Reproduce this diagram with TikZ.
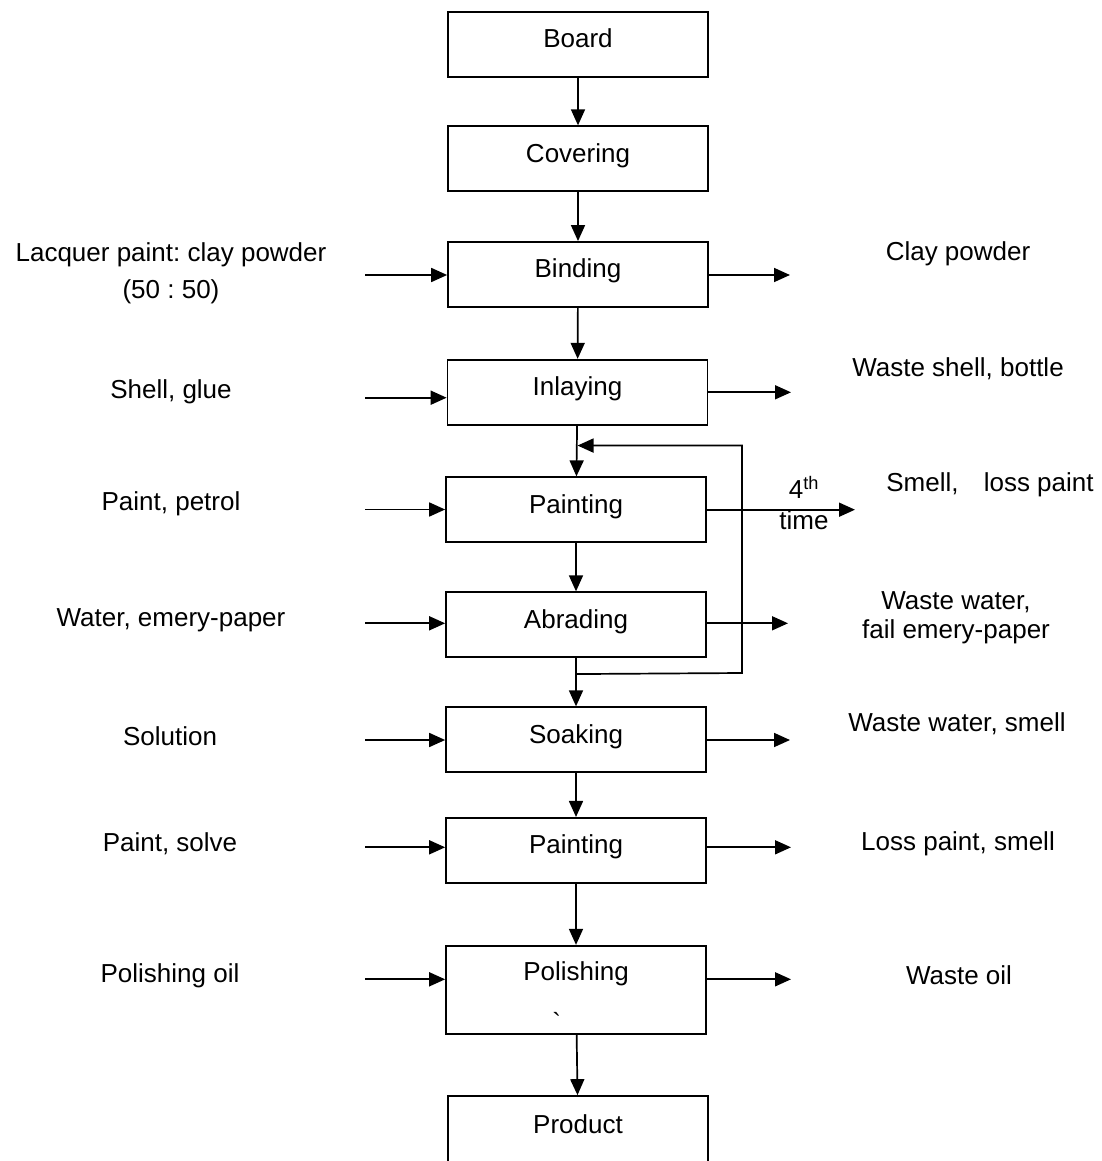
\documentclass[tikz,border=0pt]{standalone}
\usepackage{fontspec}
\setmainfont{Liberation Sans}
\usetikzlibrary{arrows.meta}
\frenchspacing

\tikzset{
  stepbox/.style={draw,line width=1.7pt,minimum width=260pt,minimum height=65pt,inner sep=0pt,text height=19pt,text depth=12pt},
  flow/.style={line width=1.7pt,-{Triangle[length=16pt,width=14pt]}},
  lbl/.style={align=center,inner sep=0pt},
}

\begin{document}
\begin{tikzpicture}[x=1pt,y=-1pt,font=\fontsize{26}{29}\selectfont]
  \useasboundingbox (0,0) rectangle (1101,1161);
  \clip (0,0) rectangle (1101,1161);
  % process steps
  \node[stepbox] (board) at (578,44.5) {Board};
  \node[stepbox] (cover) at (578,158.7) {Covering};
  \node[stepbox] (bind) at (578,274.4) {Binding};
  \node[stepbox] (inlay) at (577.5,392.2) {Inlaying};
  \node[stepbox] (paint) at (576,509.7) {Painting};
  \node[stepbox] (abrade) at (576,624.7) {Abrading};
  \node[stepbox] (soak) at (576,739.7) {Soaking};
  \node[stepbox] (repaint) at (576,850.3) {Painting};
  \node[stepbox,minimum height=88pt,text depth=37pt] (polish) at (576,989.7) {Polishing};
  \node[stepbox,minimum height=67pt] (product) at (578,1129.5) {Product};
  \node[inner sep=0pt] (tick) at (556.7,1021.7) {\textasciigrave};
  % main line
  \draw[flow] (board) -- (cover);
  \draw[flow] (cover) -- (bind);
  \draw[flow] (bind) -- (inlay);
  \draw[flow] (inlay) -- (paint);
  \draw[flow] (paint) -- (abrade);
  \draw[flow] (abrade) -- (soak);
  \draw[flow] (soak) -- (repaint);
  \draw[flow] (repaint) -- (polish);
  \draw[flow] (polish) -- (product);
  % repeat loop
  \path (inlay.south) ++(0,20) coordinate (back);
  \path (abrade.south) ++(0,16) coordinate (redo);
  \coordinate (turn) at (742,673);
  \draw[flow] (redo) -- (turn) |- (back);
  % inputs
  \foreach \n/\y in {bind/275,inlay/397.7,paint/509.5,abrade/623.3,soak/740,repaint/847.3,polish/979.3} {
    \coordinate (in-\n) at (365,\y);
    \draw[flow] (in-\n) -- (in-\n -| \n.west);
  }
  % outputs
  \foreach \n/\y/\e in {bind/275/790,inlay/392.3/791,paint/509.7/855,abrade/623.3/788,soak/740/790,repaint/847.3/791,polish/979.3/791} {
    \coordinate (out-\n) at (\e,\y);
    \draw[flow] (out-\n -| \n.east) -- (out-\n);
  }
  \node[lbl] (lacquer) at (171,273.5) {Lacquer paint: clay powder\\[7.5pt](50 : 50)};
  \node[lbl] (shell) at (171,392) {Shell, glue};
  \node[lbl] (petrol) at (171,503.5) {Paint, petrol};
  \node[lbl] (water) at (171,620.5) {Water, emery-paper};
  \node[lbl] (solution) at (170,736) {Solution};
  \node[lbl] (solve) at (170,843.5) {Paint, solve};
  \node[lbl] (oil) at (170,975.5) {Polishing oil};
  \node[lbl] (clay) at (958,254) {Clay powder};
  \node[lbl] (wshell) at (958,368.5) {Waste shell, bottle};
  \node[lbl] (smell) at (990,485) {Smell,\hspace{18pt} loss paint};
  \node[lbl] (times) at (804,503) {4\textsuperscript{th}\\[2pt]time};
  \node[lbl] (wwater) at (956,617.5) {Waste water,\\fail emery-paper};
  \node[lbl] (wsmell) at (957,723.5) {Waste water, smell};
  \node[lbl] (loss) at (958,843.5) {Loss paint, smell};
  \node[lbl] (woil) at (959,975.5) {Waste oil};
\end{tikzpicture}
\end{document}
